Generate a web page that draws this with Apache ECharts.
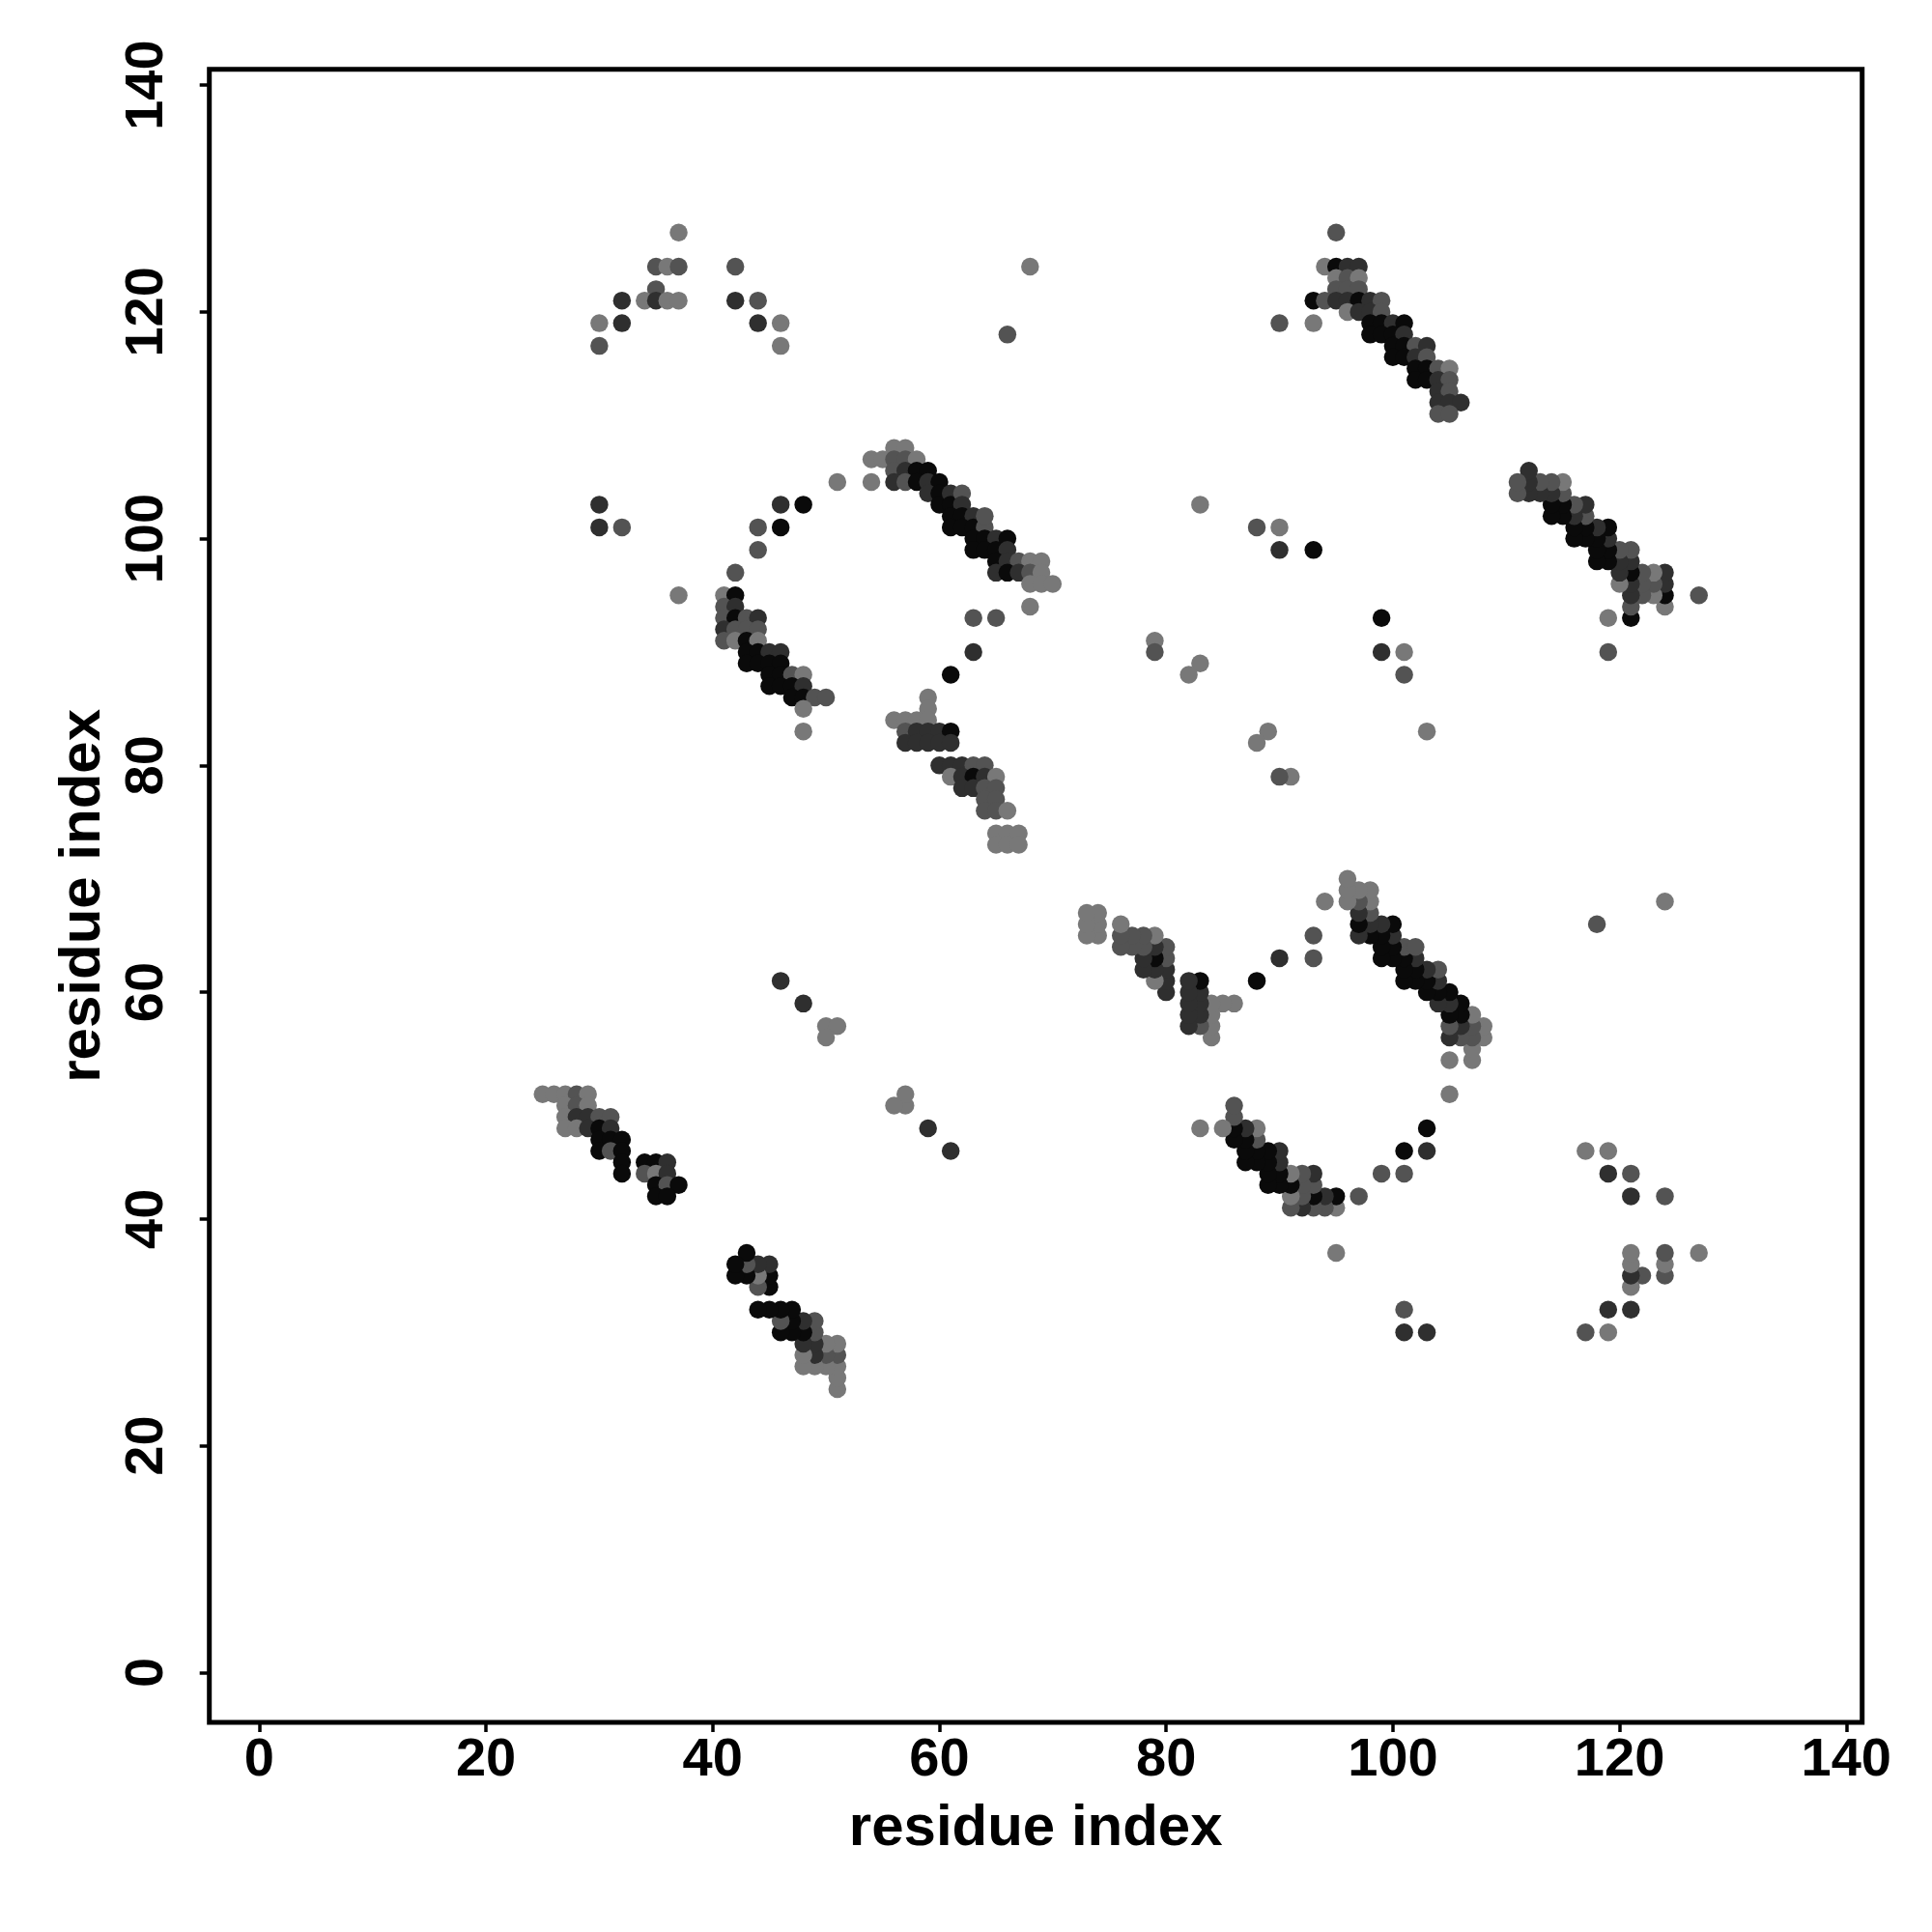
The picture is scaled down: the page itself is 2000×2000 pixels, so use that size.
<!DOCTYPE html>
<html><head><meta charset="utf-8">
<script src="https://cdn.jsdelivr.net/npm/echarts@6/dist/echarts.min.js"></script>
<style>html,body{margin:0;padding:0;background:#fff}#c{width:2000px;height:2000px}</style>
</head><body><div id="c"></div>
<script>
// Contacts (residue i < residue j); the map is symmetric, each contact is drawn at (i,j) and (j,i)
const resI = [
 37,35,36,37,42,35,32,34,35,36,37,42,44,30,32,44,46,30,46,30,46,48,30,32,44,46,44,42,37,
 41,42,41,42,41,42,43,44,41,42,43,44,41,42,43,44,43,44,45,46,43,44,45,46,45,46,47,48,45,46,47,48,47,48,49,50,48,48,
 46,48,50,51,50,51,
 54,55,56,57,56,57,58,56,57,58,59,54,56,57,58,59,60,59,60,60,61,61,62,62,61,62,63,61,62,63,64,64,63,64,65,66,63,64,65,66,65,66,67,68,69,65,66,67,68,69,68,69,70,68,
 63,65,68,66,63,61,59,59,
 56,57,58,59,57,58,59,60,61,57,58,59,60,61,60,61,62,63,64,61,62,63,64,65,62,63,64,65,64,65,64,65,66,65,66,67,65,66,67,
 79,79,83,82,83,88,90,90,93,90,93,93,95,
 94,95,96,97,95,96,97,95,96,97,94,95,96,97,98,99,96,97,98,99,98,99,100,101,98,99,100,101,100,101,102,103,100,101,102,103,102,103,104,105,102,103,104,105,104,105,104,105,106,104,105,
 25,26,27,28,29,27,28,29,27,28,29,30,31,27,28,29,30,31,30,31,32,30,31,32,32,32,34,35,36,34,35,36,35,36,37,35,36
];
const resJ = [
 127,124,124,124,124,122,121,121,121,121,121,121,121,119,119,119,119,117,117,103,103,103,101,101,101,101,99,97,95,
 95,95,94,94,93,93,93,93,92,92,92,92,91,91,91,91,90,90,90,90,89,89,89,89,88,88,88,88,87,87,87,87,86,86,86,86,85,83,
 61,59,57,57,56,105,
 107,107,108,108,107,107,107,106,106,106,106,105,105,105,105,105,105,104,104,103,104,103,104,103,102,102,102,101,101,101,101,102,100,100,100,100,99,99,99,99,98,98,98,98,98,97,97,97,97,97,96,96,96,94,
 93,93,124,118,90,88,86,85,
 84,84,84,84,83,83,83,83,83,82,82,82,82,82,80,80,80,80,80,79,79,79,79,79,78,78,78,78,77,77,76,76,76,74,74,74,73,73,73,
 91,90,89,88,103,101,101,99,99,119,119,121,127,
 124,124,124,124,123,123,123,122,122,122,121,121,121,121,121,121,120,120,120,120,119,119,119,119,118,118,118,118,117,117,117,117,116,116,116,116,115,115,115,115,114,114,114,114,113,113,112,112,112,111,111,
 51,51,51,51,51,50,50,50,49,49,49,49,49,48,48,48,48,48,47,47,47,46,46,46,45,44,45,45,45,44,44,44,43,43,43,42,42
];
// Shade of each contact: 1 = light grey ... 4 = black
const strength = [
 1,2,1,2,2,2,3,1,3,1,1,3,2,1,3,3,1,2,1,3,3,4,3,2,2,4,2,2,1,
 1,4,2,3,2,4,2,3,3,2,2,2,2,1,4,1,4,4,3,3,4,4,4,4,4,4,2,1,4,4,4,3,4,4,2,2,1,1,
 3,3,1,1,1,1,
 1,1,1,1,2,2,1,2,3,4,4,1,3,2,4,3,4,3,4,4,3,4,2,3,4,4,3,4,4,4,2,2,4,4,3,4,4,4,4,3,4,3,2,1,1,3,4,3,2,1,1,1,1,1,
 2,2,1,2,3,4,1,1,
 1,1,1,1,2,3,3,3,4,3,3,3,3,3,3,3,3,2,2,1,3,4,3,1,3,3,2,2,2,2,2,2,1,1,1,1,1,1,1,
 1,2,1,1,1,2,1,3,4,2,1,4,2,
 1,4,3,3,1,2,1,2,2,2,2,3,3,4,3,2,1,3,3,2,4,4,3,4,4,4,4,3,4,4,2,3,4,4,3,2,4,4,2,1,4,4,3,2,3,2,3,3,3,2,2,
 1,1,1,2,1,1,2,1,1,3,3,2,2,1,1,3,4,3,4,4,4,4,2,4,4,4,4,4,3,2,1,3,4,2,4,4,4,4,4
];
const tickValues = [0, 20, 40, 60, 80, 100, 120, 140];
const axisTitle = 'residue index';

const points = [];
for (let k = 0; k < resI.length; k++) {
  points.push([resI[k], resJ[k], strength[k]]);
  points.push([resJ[k], resI[k], strength[k]]);
}

const font = 'Liberation Sans, Arial, Helvetica, sans-serif';
const chart = echarts.init(document.getElementById('c'), null, {renderer: 'canvas'});
const axisCommon = {
  type: 'value', min: -4.4, max: 141.4,
  axisLine: {show: false, onZero: false},
  splitLine: {show: false},
  axisTick: {show: true, customValues: tickValues, length: 10, lineStyle: {color: '#000', width: 3.5}},
  axisLabel: {customValues: tickValues, color: '#000', fontSize: 56, fontWeight: 'bold', fontFamily: font},
  name: axisTitle, nameLocation: 'middle',
  nameTextStyle: {color: '#000', fontSize: 60, fontWeight: 'bold', fontFamily: font}
};
chart.setOption({
  animation: false,
  backgroundColor: '#fff',
  grid: {left: 216.7, top: 71.7, right: 72.3, bottom: 217, show: true, borderColor: '#000', borderWidth: 5, backgroundColor: 'transparent'},
  xAxis: Object.assign({}, axisCommon, {
    axisLabel: Object.assign({}, axisCommon.axisLabel, {margin: 12}),
    nameGap: 80
  }),
  yAxis: Object.assign({}, axisCommon, {
    axisLabel: Object.assign({}, axisCommon.axisLabel, {margin: 36, rotate: 90}),
    nameGap: 100, nameRotate: 90
  }),
  visualMap: {show: false, type: 'continuous', dimension: 2, min: 1, max: 4,
    inRange: {color: ['#787878', '#0a0a0a']}},
  series: [{
    type: 'scatter', data: points, symbol: 'circle', symbolSize: 18.5,
    itemStyle: {opacity: 1}
  }]
});
</script></body></html>
